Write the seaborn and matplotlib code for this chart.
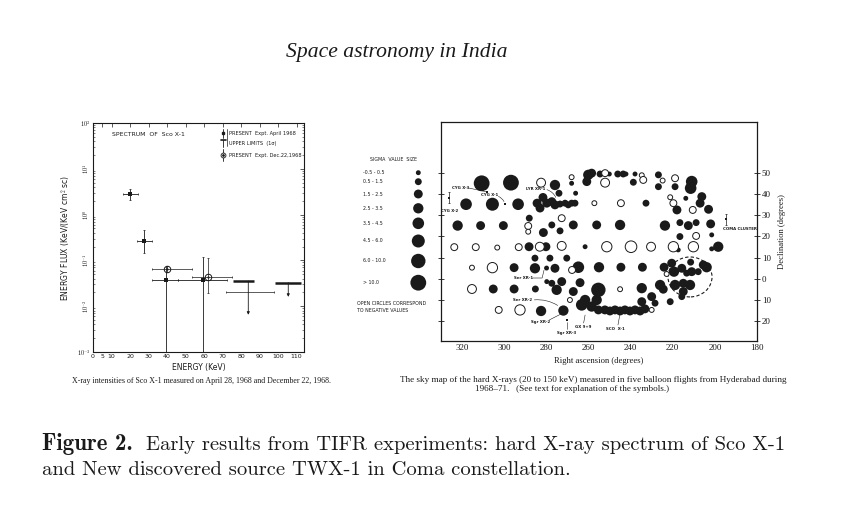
import numpy as np
import pandas as pd
import matplotlib
matplotlib.use("Agg")
import matplotlib.pyplot as plt
import seaborn as sns
from matplotlib.patches import Ellipse
from matplotlib.ticker import FixedLocator, LogLocator, NullFormatter

sns.set_theme(style="white")
plt.rcParams['font.family'] = ['DejaVu Sans']
plt.rcParams['mathtext.fontset'] = 'cm'

# ---------------- Left panel: spectrum of Sco X-1 ----------------
apr_energy = [20.0, 27.7, 39.4, 59.6]
apr_flux = [2.8, 0.27, 0.0367, 0.0367]
apr_xlo = [16.2, 24.0, 32.0, 46.0]
apr_xhi = [24.2, 32.0, 46.0, 72.2]
apr_ylo = [2.1, 0.148, 0.001, 0.001]
apr_yhi = [3.6, 0.45, 0.072, 0.12]

dec_energy = [40.0, 62.3]
dec_flux = [0.064, 0.0437]
dec_xlo = [32.0, 53.3]
dec_xhi = [53.3, 74.9]
dec_ylo = [0.055, 0.019]
dec_yhi = [0.075, 0.115]

wide_energy = [84.8]
wide_flux = [0.020]
wide_xlo = [71.8]
wide_xhi = [97.7]

ul_energy = [83.9, 105.5]
ul_flux = [0.0355, 0.0325]
ul_xlo = [75.8, 98.3]
ul_xhi = [87.1, 112.3]
ul_arrow_to = [0.0065, 0.016]

energy_ticks = [0, 5, 10, 20, 30, 40, 50, 60, 70, 80, 90, 100, 110]
flux_ticks = [1e2, 1e1, 1e0, 1e-1, 1e-2, 1e-3]
flux_tick_labels = [r"$10^{2}$", r"$10^{1}$", r"$10^{0}$", r"$10^{-1}$", r"$10^{-2}$", r"$10^{-3}$"]

# ---------------- Right panel: sky map ----------------
ra = [310.7, 296.8, 282.5, 318.1, 305.6, 293.4, 322.1, 311.2, 300.4, 288.6,
      288.1, 288.6, 281.4, 323.7, 313.5, 303.3, 293.1, 288.2, 283.1, 280.2,
      315.3, 305.6, 295.3, 285.4, 285.4, 279.9, 315.3, 305.2, 295.3, 285.2,
      279.8, 302.6, 292.5, 282.5, 260.1, 260.8, 258.5, 254.5, 252.1, 252.1,
      250.1, 246.1, 243.5, 242.2, 237.9, 238.7, 234.7, 234.0, 268.0, 268.0,
      275.9, 274.0, 266.1, 279.8, 277.4, 275.9, 273.5, 271.1, 269.6, 268.0,
      266.4, 284.4, 281.6, 283.0, 257.2, 244.6, 232.7, 272.7, 277.4, 267.2,
      256.1, 245.0, 273.5, 272.7, 261.6, 251.3, 239.8, 230.3, 278.3, 270.3,
      275.9, 264.8, 255.0, 244.6, 234.4, 267.8, 277.4, 275.1, 272.7, 267.2,
      264.0, 268.8, 255.3, 245.0, 234.7, 230.0, 271.9, 263.2, 261.6, 258.5,
      256.1, 255.3, 252.2, 249.8, 247.4, 245.0, 242.7, 240.3, 237.9, 235.5,
      233.2, 234.7, 230.0, 226.8, 224.8, 226.8, 218.9, 218.9, 211.0, 211.5,
      221.2, 219.7, 213.8, 206.2, 207.0, 210.5, 203.0, 218.0, 223.7, 216.6,
      212.6, 208.9, 202.0, 201.5, 216.6, 208.9, 219.7, 217.4, 210.2, 201.5,
      198.4, 224.1, 220.5, 219.4, 215.7, 213.4, 211.0, 211.5, 207.9, 205.5,
      203.9, 222.9, 218.9, 215.0, 215.0, 211.8, 215.7, 226.0, 224.5, 228.4,
      221.2]
dec = [45.1, 45.4, 45.4, 35.2, 35.2, 35.2, 25.1, 25.1, 25.1, 24.9,
       28.6, 22.2, 21.8, 14.9, 14.9, 14.7, 14.9, 15.1, 15.1, 15.1,
       5.2, 5.2, 5.2, 4.9, 9.7, 5.0, -4.9, -4.9, -4.9, -4.9,
       -1.4, -14.8, -14.8, -15.3, 49.1, 45.9, 49.9, 49.5, 49.9, 45.4,
       49.5, 49.5, 49.5, 49.5, 49.5, 45.6, 48.9, 46.7, 48.0, 45.1,
       44.3, 40.4, 40.4, 35.7, 36.4, 34.9, 35.3, 35.7, 34.9, 35.7,
       35.7, 35.7, 38.4, 33.4, 35.7, 35.7, 35.7, 28.6, 25.4, 25.4,
       25.4, 25.4, 22.6, 15.5, 15.1, 15.1, 15.1, 15.1, 9.7, 9.7,
       4.9, 5.4, 5.4, 5.4, 5.4, 4.1, -2.2, -5.3, -1.4, -6.1,
       -1.9, -10.1, -5.3, -5.0, -4.5, -8.5, -15.1, -12.4, -10.1, -13.2,
       -10.1, -14.8, -14.8, -15.3, -14.8, -15.3, -14.8, -15.3, -14.8, -15.3,
       -14.3, -10.9, -14.8, 49.1, 46.4, 43.5, 47.5, 43.5, 45.9, 42.8,
       38.5, 35.7, 38.0, 38.8, 35.7, 32.5, 32.8, 32.5, 25.1, 26.5,
       25.1, 26.5, 25.9, 20.7, 19.9, 20.2, 15.1, 13.6, 15.1, 14.1,
       15.1, 5.4, 7.3, 3.3, 4.9, 2.6, 3.3, 7.8, 3.3, 6.5,
       5.4, 2.2, -3.0, -2.2, -6.1, -3.0, -8.5, -3.0, -5.0, -11.6,
       -10.9]
sigma_class = [8, 8, 3, 5, 6, 5, 4, 3, 3, 2,
               2, 1, 3, 2, 2, 1, 2, 3, 3, 3,
               1, 4, 3, 4, 2, 1, 3, 3, 3, 2,
               1, 2, 4, 4, 4, 3, 3, 2, 2, 3,
               1, 2, 2, 1, 1, 2, 1, 2, 1, 1,
               4, 2, 1, 3, 3, 3, 2, 2, 2, 2,
               2, 3, 3, 3, 1, 2, 2, 2, 2, 3,
               3, 4, 2, 3, 1, 4, 5, 3, 2, 2,
               3, 5, 4, 3, 3, 2, 2, 4, 3, 3,
               3, 1, 7, 1, 4, 3, 4, 5, 4, 4,
               4, 3, 3, 3, 3, 3, 3, 3, 3, 3,
               3, 3, 1, 2, 1, 2, 2, 2, 5, 5,
               1, 2, 1, 3, 3, 2, 3, 3, 4, 2,
               3, 2, 3, 1, 2, 2, 4, 1, 4, 1,
               4, 3, 3, 4, 3, 2, 3, 2, 2, 3,
               4, 1, 4, 3, 3, 4, 2, 4, 3, 2,
               2]
negative = [0, 0, 1, 0, 0, 0, 0, 0, 0, 1,
            0, 1, 0, 1, 1, 1, 1, 0, 1, 0,
            1, 1, 0, 0, 0, 0, 1, 0, 0, 0,
            0, 1, 1, 0, 0, 0, 0, 0, 1, 1,
            0, 0, 0, 0, 0, 0, 1, 1, 1, 0,
            0, 0, 0, 0, 0, 0, 0, 0, 0, 0,
            0, 0, 0, 0, 1, 1, 0, 1, 0, 0,
            0, 0, 0, 1, 0, 1, 1, 1, 0, 0,
            0, 0, 0, 0, 0, 1, 0, 0, 0, 0,
            0, 1, 0, 1, 0, 0, 0, 0, 0, 0,
            0, 0, 0, 0, 0, 0, 0, 0, 0, 0,
            0, 0, 1, 0, 1, 0, 1, 0, 0, 0,
            1, 1, 0, 0, 0, 1, 0, 0, 0, 0,
            0, 0, 0, 0, 0, 1, 1, 0, 1, 0,
            0, 0, 0, 0, 0, 0, 0, 0, 0, 0,
            0, 1, 0, 0, 0, 0, 0, 0, 0, 0,
            0]

sigma_labels = ["-0.5 - 0.5", "0.5 - 1.5", "1.5 - 2.5", "2.5 - 3.5",
                "3.5 - 4.5", "4.5 - 6.0", "6.0 - 10.0", "> 10.0"]
sigma_levels = [1, 2, 3, 4, 5, 6, 7, 8]
sigma_diam_px = [4.9, 6.9, 8.9, 10.3, 11.6, 13.0, 14.4, 15.8]

source_names = ["CYG X-3", "CYG X-1", "CYG X-2", "Sgr XR-3", "COMA CLUSTER"]
source_ra = [308.0, 299.6, 326.2, 270.2, 194.9]
source_dec = [41.0, 35.2, 38.3, -19.5, 28.0]

coma_region_ra = 211.8
coma_region_dec = 0.8
coma_region_w = 20.9
coma_region_h = 18.9

ra_ticks = [320, 300, 280, 260, 240, 220, 200, 180]
dec_ticks = [50, 40, 30, 20, 10, 0, -10, -20]
dec_tick_labels = ["50", "40", "30", "20", "10", "0", "10", "20"]

# ---------------- Figure ----------------
W, H = 848, 514
fig = plt.figure(figsize=(W / 100, H / 100), dpi=100)
fig.patch.set_facecolor('white')

def box(l, t, r, b):
    return [l / W, 1 - b / H, (r - l) / W, (b - t) / H]

serif = ['Liberation Serif', 'DejaVu Serif']
size_map = {lv: (d * 0.72) ** 2 for lv, d in zip(sigma_levels, sigma_diam_px)}

# ---- Left panel ----
axL = fig.add_axes(box(93, 123, 304, 352))
axL.set_yscale('log')
axL.set_xlim(0, 114)
axL.set_ylim(1e-3, 1e2)

x = np.array(apr_energy); y = np.array(apr_flux)
axL.errorbar(x, y, xerr=[x - np.array(apr_xlo), np.array(apr_xhi) - x],
             yerr=[y - np.array(apr_ylo), np.array(apr_yhi) - y],
             fmt='none', ecolor='k', elinewidth=0.6, capsize=1.0, capthick=0.5)
x2 = np.array(dec_energy); y2 = np.array(dec_flux)
axL.errorbar(x2, y2, xerr=[x2 - np.array(dec_xlo), np.array(dec_xhi) - x2],
             yerr=[y2 - np.array(dec_ylo), np.array(dec_yhi) - y2],
             fmt='none', ecolor='k', elinewidth=0.5, capsize=1.0, capthick=0.5)
x3 = np.array(wide_energy); y3 = np.array(wide_flux)
axL.errorbar(x3, y3, xerr=[x3 - np.array(wide_xlo), np.array(wide_xhi) - x3],
             fmt='none', ecolor='k', elinewidth=0.5, capsize=1.0, capthick=0.5)
axL.hlines(ul_flux, ul_xlo, ul_xhi, colors='k', linewidth=1.8)
for e, f, t in zip(ul_energy, ul_flux, ul_arrow_to):
    axL.annotate("", xy=(e, t), xytext=(e, f),
                 arrowprops=dict(arrowstyle='-|>', lw=0.6, color='k',
                                 mutation_scale=4, shrinkA=0, shrinkB=0))
sns.scatterplot(x=apr_energy, y=apr_flux, ax=axL, marker='s', s=9,
                color='k', linewidth=0, legend=False)
sns.scatterplot(x=dec_energy, y=dec_flux, ax=axL, marker='o', s=22,
                color='white', edgecolor='k', linewidth=0.7, legend=False)
sns.scatterplot(x=dec_energy, y=dec_flux, ax=axL, marker='o', s=2.5,
                color='k', linewidth=0, legend=False)

axL.set_xticks(energy_ticks)
axL.set_xticklabels([str(v) for v in energy_ticks])
axL.yaxis.set_major_locator(FixedLocator(flux_ticks))
axL.set_yticklabels(flux_tick_labels)
axL.yaxis.set_minor_locator(LogLocator(base=10, subs=np.arange(2, 10), numticks=20))
axL.yaxis.set_minor_formatter(NullFormatter())
axL.tick_params(axis='both', which='major', direction='in', length=3, width=0.5,
                labelsize=4.5, pad=1.5, top=True, right=True, colors='k')
axL.tick_params(axis='y', which='minor', direction='in', length=1.5, width=0.4,
                left=True, right=True)
for i, lab in enumerate(axL.get_yticklabels()):
    if 0 < i < len(flux_ticks) - 1:
        lab.set_rotation(90)
        lab.set_va('center')
for sp in axL.spines.values():
    sp.set_color('k'); sp.set_linewidth(0.8)
axL.set_xlabel("ENERGY (KeV)", fontsize=5.5, labelpad=3, color='k')
axL.set_ylabel("ENERGY FLUX (KeV/(KeV cm$^2$ sc)", fontsize=5.5, labelpad=3, color='k')
axL.text(0.09, 0.95, "SPECTRUM  OF  Sco X-1", transform=axL.transAxes,
         fontsize=4.4, va='center', ha='left', color='k')
# legend of left panel
leg_x = 0.617
axL.plot([leg_x, leg_x], [0.935, 0.975], transform=axL.transAxes, color='k', lw=0.6)
axL.plot([leg_x], [0.955], 's', transform=axL.transAxes, color='k', ms=2)
axL.plot([leg_x - 0.012, leg_x + 0.012], [0.925, 0.925], transform=axL.transAxes, color='k', lw=1.2)
axL.plot([leg_x, leg_x], [0.925, 0.895], transform=axL.transAxes, color='k', lw=0.6)
axL.plot([leg_x, leg_x], [0.835, 0.885], transform=axL.transAxes, color='k', lw=0.6)
axL.plot([leg_x], [0.86], 'o', transform=axL.transAxes, mfc='white', mec='k', ms=3.5, mew=0.6)
axL.plot([leg_x], [0.86], 'o', transform=axL.transAxes, color='k', ms=1)
axL.plot([0.635, 0.635], [0.975, 0.9], transform=axL.transAxes, color='k', lw=0.5)
axL.text(0.645, 0.955, "PRESENT  Expt. April 1968", transform=axL.transAxes,
         fontsize=3.6, va='center', ha='left', color='k')
axL.text(0.645, 0.912, "UPPER LIMITS  (1σ)", transform=axL.transAxes,
         fontsize=3.6, va='center', ha='left', color='k')
axL.text(0.645, 0.86, "PRESENT  Expt. Dec.22,1968", transform=axL.transAxes,
         fontsize=3.6, va='center', ha='left', color='k')

# ---- Right panel ----
axR = fig.add_axes(box(441, 122, 757, 341))
axR.set_xlim(330, 180)
axR.set_ylim(-29.5, 74.1)
df = pd.DataFrame({'ra': ra, 'dec': dec, 'cls': sigma_class, 'neg': negative})
axR.add_patch(Ellipse((coma_region_ra, coma_region_dec), coma_region_w, coma_region_h,
                      fill=False, ls=(0, (3, 2)), lw=0.8, color='k'))
sns.scatterplot(data=df[df.neg == 0], x='ra', y='dec', size='cls', sizes=size_map,
                color='k', linewidth=0, ax=axR, legend=False)
sns.scatterplot(data=df[df.neg == 1], x='ra', y='dec', size='cls', sizes=size_map,
                color='white', ax=axR, legend=False)
coll = axR.collections[-1]
coll.set_facecolor('white'); coll.set_edgecolor('k'); coll.set_linewidth(0.7)
sns.scatterplot(x=source_ra, y=source_dec, marker='s', s=4, color='k',
                linewidth=0, ax=axR, legend=False)
axR.errorbar([source_ra[2], source_ra[4]], [source_dec[2], source_dec[4]], yerr=2.5,
             fmt='none', ecolor='k', elinewidth=0.5, capsize=0.8, capthick=0.5)

lab_kw = dict(fontsize=2.8, color='k', fontweight='bold', ha='center', va='center')
axR.text(320.8, 42.9, "CYG X-3", **lab_kw)
axR.plot([317.0, 308.0], [42.9, 41.0], color='k', lw=0.4)
axR.text(306.7, 39.6, "CYG X-1", **lab_kw)
axR.annotate("", xy=(299.6, 35.2), xytext=(304.0, 39.3),
             arrowprops=dict(arrowstyle='-', lw=0.4, color='k', connectionstyle='arc3,rad=-0.3'))
axR.text(325.8, 32.0, "CYG X-2", **lab_kw)
axR.text(285.0, 42.4, "LYR XR-1", **lab_kw)
axR.annotate("", xy=(275.0, 37.2), xytext=(281.0, 42.4),
             arrowprops=dict(arrowstyle='-', lw=0.4, color='k', connectionstyle='arc3,rad=-0.3'))
axR.text(290.8, 0.3, "Ser XR-1", **lab_kw)
axR.plot([286.5, 282.0, 281.1], [0.3, 0.3, 4.0], color='k', lw=0.4)
axR.text(291.2, -10.2, "Ser XR-2", **lab_kw)
axR.annotate("", xy=(273.5, -13.4), xytext=(287.0, -10.2),
             arrowprops=dict(arrowstyle='-', lw=0.4, color='k', connectionstyle='arc3,rad=-0.2'))
axR.text(282.5, -20.6, "Sgr XR-2", **lab_kw)
axR.plot([278.5, 272.6], [-19.5, -16.5], color='k', lw=0.4)
axR.text(270.2, -25.8, "Sgr XR-3", **lab_kw)
axR.plot([270.2, 270.2], [-23.8, -20.5], color='k', lw=0.4)
axR.text(262.7, -22.8, "GX 9+9", **lab_kw)
axR.plot([262.3, 261.6], [-21.0, -17.2], color='k', lw=0.4)
axR.text(247.0, -23.8, "SCO  X-1", **lab_kw)
axR.plot([246.0, 245.0], [-21.9, -16.5], color='k', lw=0.4)
axR.text(188.2, 23.5, "COMA CLUSTER", **lab_kw)

axR.set_xticks(ra_ticks)
axR.set_xticklabels([str(v) for v in ra_ticks], family=serif)
axR.set_xticks([310, 290, 270, 250, 230, 210, 190], minor=True)
axR.set_yticks(dec_ticks)
axR.set_yticklabels(dec_tick_labels, family=serif)
axR.yaxis.tick_right()
axR.tick_params(axis='x', which='major', direction='in', length=3, width=0.6,
                labelsize=6.5, pad=2, colors='k')
axR.tick_params(axis='x', which='minor', direction='in', length=1.5, width=0.5)
axR.tick_params(axis='y', which='major', direction='inout', length=4, width=0.6,
                labelsize=6.5, pad=1.5, left=True, right=True, labelleft=False,
                labelright=True, colors='k')
for sp in axR.spines.values():
    sp.set_color('k'); sp.set_linewidth(0.9)
axR.set_xlabel("Right ascension (degrees)", fontsize=6.2, family=serif, labelpad=4, color='k')
axR.yaxis.set_label_position('right')
axR.set_ylabel("Declination (degrees)", fontsize=6.2, family=serif, labelpad=5,
               rotation=90, color='k')

# ---- Sigma size legend ----
axG = fig.add_axes(box(352, 150, 440, 320))
axG.set_xlim(352, 440)
axG.set_ylim(320, 150)
axG.axis('off')
row_y = [172.7, 181.7, 194.0, 208.3, 223.3, 241.0, 261.0, 282.7]
sns.scatterplot(x=[418.3] * len(sigma_levels), y=row_y, size=sigma_levels,
                sizes=size_map, color='k', linewidth=0, ax=axG, legend=False)
for yy, lab in zip(row_y, sigma_labels):
    axG.text(363, yy, lab, fontsize=3.4, va='center', ha='left', color='k')
axG.text(370, 159.3, "SIGMA  VALUE  SIZE", fontsize=3.4, va='center', ha='left', color='k')
axG.text(357, 303.7, "OPEN CIRCLES CORRESPOND", fontsize=3.4, va='center', ha='left', color='k')
axG.text(357, 311.0, "TO NEGATIVE VALUES", fontsize=3.4, va='center', ha='left', color='k')

# ---- Texts (font size fitted to the width seen in the reference) ----
fig.canvas.draw()
renderer = fig.canvas.get_renderer()

def fit_width(t, target_px):
    w = t.get_window_extent(renderer).width
    if w > 0:
        t.set_fontsize(t.get_fontsize() * target_px / w)

t_title = fig.text(397 / W, 1 - 52 / H, "Space astronomy in India", ha='center', va='center',
                   fontsize=14, style='italic', family=serif, color='k')
fit_width(t_title, 221)
t_lc = fig.text(72 / W, 1 - 381 / H,
                "X-ray intensities of Sco X-1 measured on April 28, 1968 and December 22, 1968.",
                ha='left', va='center', fontsize=5.3, family=serif, color='k')
fit_width(t_lc, 261)
t_rc1 = fig.text(400 / W, 1 - 380 / H,
                 "The sky map of the hard X-rays (20 to 150 keV) measured in five balloon flights from Hyderabad during",
                 ha='left', va='center', fontsize=6.0, family=serif, color='k')
fit_width(t_rc1, 387)
t_rc2 = fig.text(572 / W, 1 - 389 / H, "1968\u201371.   (See text for explanation of the symbols.)",
                 ha='center', va='center', fontsize=t_rc1.get_fontsize(), family=serif, color='k')

cap_fs = 14
t_fig = fig.text(42 / W, 1 - 450 / H, "Figure 2.", ha='left', va='baseline',
                 fontsize=cap_fs, family='cmb10', color='k')
fit_width(t_fig, 91)
t_c1 = fig.text(146 / W, 1 - 450 / H,
                "Early results from TIFR experiments: hard X-ray spectrum of Sco X-1",
                ha='left', va='baseline', fontsize=cap_fs, family='cmr10', color='k')
fit_width(t_c1, 783 - 146)
t_c2 = fig.text(42 / W, 1 - 475 / H,
                "and New discovered source TWX-1 in Coma constellation.",
                ha='left', va='baseline', fontsize=t_c1.get_fontsize(), family='cmr10', color='k')

fig.savefig("out.png", dpi=100, facecolor='white')
